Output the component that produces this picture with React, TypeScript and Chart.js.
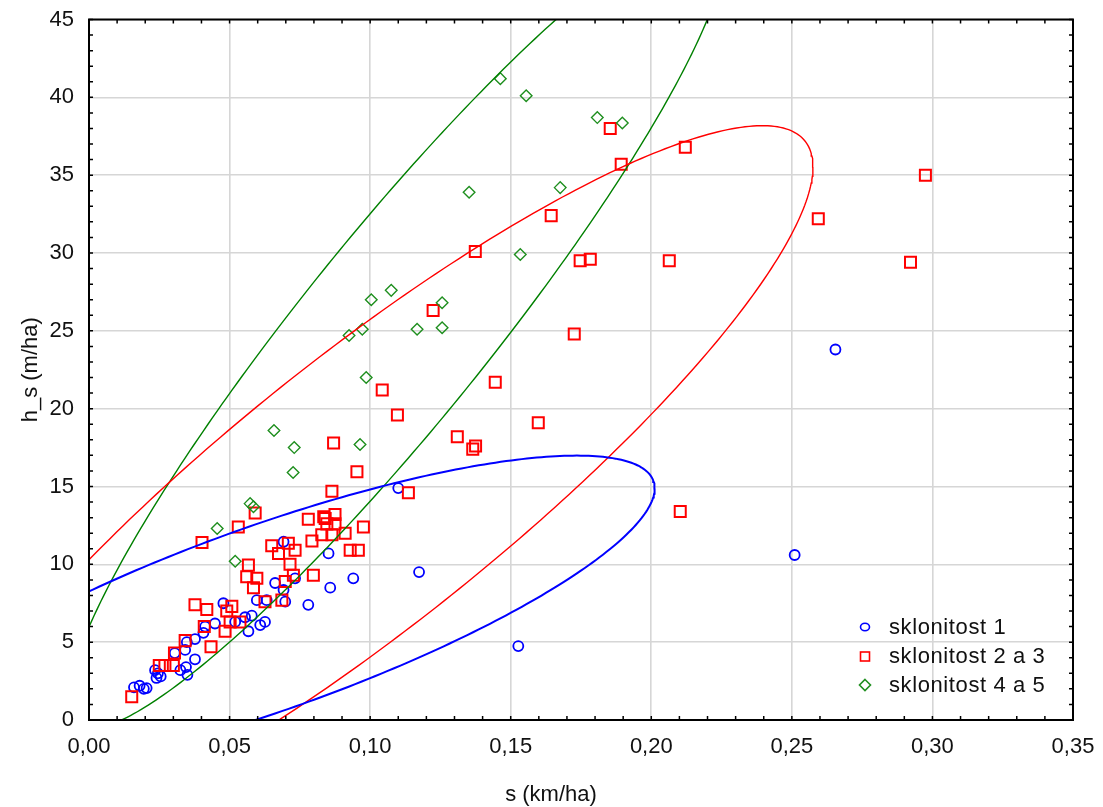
import React, { useEffect, useRef } from 'react';
import { Chart, registerables } from 'chart.js';

Chart.register(...registerables);

// ---------- data ----------
const SERIES_NAMES = ['sklonitost 1', 'sklonitost 2 a 3', 'sklonitost 4 a 5'];
const X_TICKS = [0, 0.05, 0.1, 0.15, 0.2, 0.25, 0.3, 0.35];
const Y_TICKS = [0, 5, 10, 15, 20, 25, 30, 35, 40, 45];
const X_TITLE = 's (km/ha)';
const Y_TITLE = 'h_s (m/ha)';

const s1X = [0.016, 0.018, 0.0195, 0.0205, 0.0235, 0.024, 0.0255, 0.0245, 0.0305, 0.0325, 0.0345, 0.035, 0.0342, 0.0348, 0.0377, 0.0377, 0.0407, 0.0413, 0.0448, 0.0478, 0.052, 0.0555, 0.0579, 0.0567, 0.0609, 0.0626, 0.0597, 0.0632, 0.0662, 0.0692, 0.0698, 0.0733, 0.0692, 0.078, 0.0852, 0.0858, 0.094, 0.110, 0.1174, 0.1527, 0.251, 0.2655];
const s1Y = [2.1, 2.2, 2.0, 2.05, 3.2, 2.7, 2.8, 3.0, 4.3, 3.2, 3.4, 2.9, 4.5, 5.0, 5.2, 3.9, 5.6, 6.0, 6.2, 7.5, 6.3, 6.6, 6.7, 5.7, 6.1, 6.3, 7.7, 7.7, 8.8, 8.35, 7.6, 9.1, 11.45, 7.4, 10.7, 8.5, 9.1, 14.9, 9.5, 4.75, 10.6, 23.8];

const s2X = [0.0152, 0.025, 0.027, 0.030, 0.0304, 0.0342, 0.041, 0.0434, 0.0377, 0.0419, 0.0484, 0.0502, 0.0537, 0.049, 0.0508, 0.0567, 0.0561, 0.0597, 0.0585, 0.0626, 0.0686, 0.0698, 0.0727, 0.0715, 0.0798, 0.065, 0.0709, 0.0674, 0.0733, 0.0793, 0.0828, 0.0864, 0.0911, 0.0976, 0.0846, 0.0875, 0.084, 0.0875, 0.078, 0.0929, 0.0958, 0.0531, 0.0591, 0.0402, 0.0864, 0.0953, 0.087, 0.1136, 0.1097, 0.1043, 0.1224, 0.131, 0.1365, 0.1375, 0.1445, 0.1374, 0.1598, 0.1644, 0.1726, 0.1747, 0.1783, 0.1854, 0.1893, 0.2064, 0.2103, 0.2121, 0.2594, 0.2922, 0.2975, 0.0835];
const s2Y = [1.5, 3.5, 3.5, 3.5, 4.3, 5.1, 6.0, 4.7, 7.4, 7.1, 5.7, 6.3, 6.3, 7.0, 7.3, 9.95, 9.2, 9.1, 8.5, 7.6, 7.7, 8.9, 9.3, 10.0, 9.3, 11.2, 11.35, 10.7, 10.9, 11.5, 11.9, 11.9, 12.0, 12.4, 12.6, 12.6, 12.95, 13.2, 12.9, 10.9, 10.9, 12.4, 13.3, 11.4, 14.7, 15.95, 17.8, 14.6, 19.6, 21.2, 26.3, 18.2, 17.4, 17.6, 21.7, 30.1, 19.1, 32.4, 24.8, 29.5, 29.6, 38.0, 35.7, 29.5, 13.4, 36.8, 32.2, 29.4, 35.0, 13.06];

const s3X = [0.1463, 0.1555, 0.1808, 0.1897, 0.1676, 0.1352, 0.1534, 0.1004, 0.1075, 0.1256, 0.1167, 0.1256, 0.0925, 0.0972, 0.0986, 0.0964, 0.073, 0.0658, 0.0726, 0.0573, 0.0585, 0.0456, 0.052];
const s3Y = [41.2, 40.1, 38.7, 38.35, 34.2, 33.9, 29.9, 27.0, 27.6, 26.8, 25.1, 25.2, 24.7, 25.1, 22.0, 17.7, 17.5, 18.6, 15.9, 13.9, 13.7, 12.3, 10.2];

// ---------- styling ----------
const FONT = '"Liberation Sans", Arial, sans-serif';
const BLUE = '#0000ff';
const RED = '#ff0000';
const GREEN_PT = '#1f8f1f';
const GREEN_LN = '#008000';

const toPoints = (xs: number[], ys: number[]) => xs.map((x, i) => ({ x, y: ys[i] }));

// prediction-interval ellipse (0.95) computed from the series itself
function predictionEllipse(xs: number[], ys: number[], conf = 0.95, steps = 360) {
  const n = xs.length;
  const mx = xs.reduce((a, b) => a + b, 0) / n;
  const my = ys.reduce((a, b) => a + b, 0) / n;
  let sxx = 0, syy = 0, sxy = 0;
  for (let i = 0; i < n; i++) {
    const dx = xs[i] - mx, dy = ys[i] - my;
    sxx += dx * dx; syy += dy * dy; sxy += dx * dy;
  }
  sxx /= n - 1; syy /= n - 1; sxy /= n - 1;
  const sx = Math.sqrt(sxx), sy = Math.sqrt(syy), r = sxy / (sx * sy);
  const m = n - 2;
  const F = (m / 2) * (Math.pow(1 - conf, -2 / m) - 1);
  const k = Math.sqrt(((2 * (n + 1) * (n - 1)) / (n * (n - 2))) * F);
  const pts: { x: number; y: number }[] = [];
  for (let i = 0; i <= steps; i++) {
    const t = (i / steps) * Math.PI * 2;
    const c = Math.cos(t), s = Math.sin(t);
    pts.push({ x: mx + k * sx * c, y: my + k * sy * (r * c + Math.sqrt(1 - r * r) * s) });
  }
  return pts;
}

const framePlugin = {
  id: 'frameAndLegend',
  afterDatasetsDraw(chart: any) {
    const { ctx, chartArea: a, scales } = chart;
    const x = scales.x, y = scales.y;
    ctx.save();
    // minor / major tick marks pointing inwards on all four sides
    ctx.strokeStyle = '#000';
    ctx.lineWidth = 1.5;
    ctx.beginPath();
    for (let i = 0; i <= 35; i++) {
      const px = x.getPixelForValue(i / 100);
      ctx.moveTo(px, a.bottom); ctx.lineTo(px, a.bottom - 4);
      ctx.moveTo(px, a.top); ctx.lineTo(px, a.top + 4);
    }
    for (let j = 0; j <= 45; j++) {
      const py = y.getPixelForValue(j);
      ctx.moveTo(a.left, py); ctx.lineTo(a.left + 4, py);
      ctx.moveTo(a.right, py); ctx.lineTo(a.right - 4, py);
    }
    ctx.stroke();
    ctx.lineWidth = 2;
    ctx.strokeRect(a.left, a.top, a.right - a.left, a.bottom - a.top);

    // legend inside plot
    const lx = 865, tx = 889;
    const rows = [627, 656.5, 685];
    ctx.font = `22px ${FONT}`;
    ctx.fillStyle = '#111';
    ctx.textAlign = 'left';
    ctx.textBaseline = 'middle';
    (ctx as any).letterSpacing = '0.6px';
    SERIES_NAMES.forEach((name, i) => {
      const ry = rows[i];
      ctx.lineWidth = 1.6;
      if (i === 0) {
        ctx.strokeStyle = BLUE;
        ctx.beginPath();
        ctx.ellipse(lx, ry, 4.5, 3.8, 0, 0, Math.PI * 2);
        ctx.stroke();
      } else if (i === 1) {
        ctx.strokeStyle = RED;
        ctx.strokeRect(lx - 4.5, ry - 4.5, 9, 9);
      } else {
        ctx.strokeStyle = GREEN_PT;
        ctx.beginPath();
        ctx.moveTo(lx, ry - 5.5); ctx.lineTo(lx + 5.5, ry); ctx.lineTo(lx, ry + 5.5); ctx.lineTo(lx - 5.5, ry);
        ctx.closePath();
        ctx.stroke();
      }
      ctx.fillText(name, tx, ry + 0.5);
    });
    (ctx as any).letterSpacing = '0px';

    // axis titles
    ctx.fillStyle = '#111';
    ctx.font = `22px ${FONT}`;
    ctx.textAlign = 'center';
    ctx.textBaseline = 'middle';
    ctx.fillText(X_TITLE, 551, 795);
    ctx.translate(31, (a.top + a.bottom) / 2);
    ctx.rotate(-Math.PI / 2);
    ctx.fillText(Y_TITLE, 0, 0);
    ctx.restore();
  },
};

export default function App() {
  const ref = useRef<HTMLCanvasElement | null>(null);

  useEffect(() => {
    if (!ref.current) return;
    Chart.defaults.font.family = FONT;
    const chart = new Chart(ref.current, {
      type: 'scatter',
      data: {
        datasets: [
          {
            label: SERIES_NAMES[0] + ' ellipse', data: predictionEllipse(s1X, s1Y) as any, showLine: true,
            borderColor: BLUE, borderWidth: 2, pointRadius: 0, fill: false, tension: 0, clip: 0 as any, order: 0,
          },
          {
            label: SERIES_NAMES[1] + ' ellipse', data: predictionEllipse(s2X, s2Y) as any, showLine: true,
            borderColor: RED, borderWidth: 1.4, pointRadius: 0, fill: false, tension: 0, clip: 0 as any, order: 0,
          },
          {
            label: SERIES_NAMES[2] + ' ellipse', data: predictionEllipse(s3X, s3Y) as any, showLine: true,
            borderColor: GREEN_LN, borderWidth: 1.4, pointRadius: 0, fill: false, tension: 0, clip: 0 as any, order: 0,
          },
          {
            label: SERIES_NAMES[0], data: toPoints(s1X, s1Y), pointStyle: 'circle', pointRadius: 5,
            borderColor: BLUE, borderWidth: 1.8, backgroundColor: 'rgba(0,0,0,0)', order: 3,
          },
          {
            label: SERIES_NAMES[1], data: toPoints(s2X, s2Y), pointStyle: 'rect', pointRadius: 7.8,
            borderColor: RED, borderWidth: 2, backgroundColor: 'rgba(0,0,0,0)', order: 2,
          },
          {
            label: SERIES_NAMES[2], data: toPoints(s3X, s3Y), pointStyle: 'rectRot', pointRadius: 5.8,
            borderColor: GREEN_PT, borderWidth: 1.4, backgroundColor: 'rgba(0,0,0,0)', order: 1,
          },
        ],
      },
      options: {
        responsive: true,
        maintainAspectRatio: false,
        animation: false,
        events: [],
        layout: { padding: { left: 0, top: 19.5, right: 30, bottom: 0 } },
        plugins: { legend: { display: false }, tooltip: { enabled: false }, title: { display: false } },
        scales: {
          x: {
            type: 'linear', min: 0, max: 0.35,
            afterBuildTicks: (s: any) => { s.ticks = X_TICKS.map((v) => ({ value: v })); },
            afterFit: (s: any) => { s.height = 87; s.paddingLeft = 0; s.paddingRight = 0; },
            ticks: {
              font: { size: 22, family: FONT }, color: '#111', padding: 14, maxRotation: 0, autoSkip: false,
              callback: (v: any) => Number(v).toFixed(2).replace('.', ','),
            },
            grid: { color: '#d6d6d6', lineWidth: 1.6, drawTicks: false },
            border: { display: false },
          },
          y: {
            type: 'linear', min: 0, max: 45,
            afterBuildTicks: (s: any) => { s.ticks = Y_TICKS.map((v) => ({ value: v })); },
            afterFit: (s: any) => { s.width = 89; s.paddingTop = 0; s.paddingBottom = 0; },
            ticks: { font: { size: 22, family: FONT }, color: '#111', padding: 15, autoSkip: false },
            grid: { color: '#d6d6d6', lineWidth: 1.6, drawTicks: false },
            border: { display: false },
          },
        },
      },
      plugins: [framePlugin],
    });
    return () => chart.destroy();
  }, []);

  return (
    <div style={{ position: 'absolute', left: 0, top: 0, width: 1103, height: 807, background: '#fff' }}>
      <canvas ref={ref} />
    </div>
  );
}
